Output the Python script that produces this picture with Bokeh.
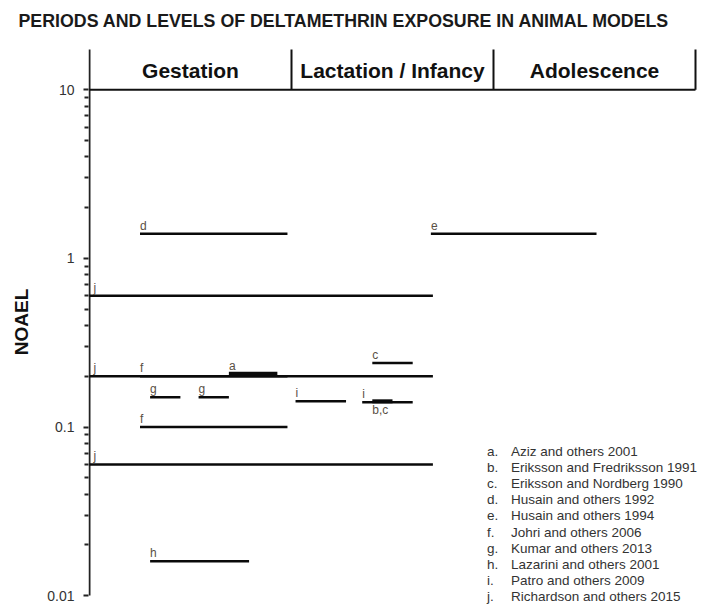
from bokeh.plotting import figure
from bokeh.models import ColumnDataSource, FixedTicker, CustomJSTickFormatter, Range1d
from bokeh.core.properties import value
from bokeh.embed import file_html
from bokeh.resources import INLINE

# ---------------- data ----------------
title_text = "PERIODS AND LEVELS OF DELTAMETHRIN EXPOSURE IN ANIMAL MODELS"
periods = ["Gestation", "Lactation / Infancy", "Adolescence"]

seg_label = ["d", "e", "j", "j", "j", "f", "a", "g", "g", "f", "i", "i", "c", "b,c", "h"]
seg_start = [0.25, 1.69, 0.0, 0.0, 0.0, 0.25, 0.69, 0.30, 0.54, 0.25, 1.02, 1.35, 1.40, 1.40, 0.30]
seg_end   = [0.98, 2.51, 1.70, 1.70, 1.70, 0.98, 0.93, 0.45, 0.69, 0.98, 1.27, 1.60, 1.60, 1.50, 0.79]
seg_noael = [1.4, 1.4, 0.6, 0.2, 0.06, 0.2, 0.207, 0.15, 0.15, 0.1, 0.142, 0.14, 0.24, 0.142, 0.016]

legend_keys = ["a.", "b.", "c.", "d.", "e.", "f.", "g.", "h.", "i.", "j."]
legend_refs = [
    "Aziz and others 2001",
    "Eriksson and Fredriksson 1991",
    "Eriksson and Nordberg 1990",
    "Husain and others 1992",
    "Husain and others 1994",
    "Johri and others 2006",
    "Kumar and others 2013",
    "Lazarini and others 2001",
    "Patro and others 2009",
    "Richardson and others 2015",
]

y_ticks = [0.01, 0.1, 1, 10]
y_minor = [m * 10.0 ** e for e in (-2, -1, 0) for m in range(2, 10)]

# ---------------- layout helpers (page pixels) ----------------
PX_DEC = 168.6          # pixels per decade
TEN_PX = 89.3           # page y of the 10 line
FRAME_TOP = 38
FRAME_BOTTOM = 605
HEADER_TOP = 49
LEFT = 88               # page x of the frame's left edge
PX_UNIT = 202.0         # pixels per period


def y_at(py):
    return 10 ** (1 - (py - TEN_PX) / PX_DEC)


Y_START = y_at(FRAME_BOTTOM)
Y_END = y_at(FRAME_TOP)
X_START = -1.0 / PX_UNIT
FRAME_W = 614
X_END = X_START + FRAME_W / PX_UNIT


def x_at(px):
    return X_START + (px - LEFT) / PX_UNIT


p = figure(frame_width=FRAME_W, frame_height=FRAME_BOTTOM - FRAME_TOP,
           x_range=Range1d(X_START, X_END), y_range=Range1d(Y_START, Y_END),
           y_axis_type="log", output_backend="svg", toolbar_location=None,
           min_border_left=LEFT, min_border_top=FRAME_TOP, min_border_right=0,
           min_border_bottom=4)

p.title.text = title_text
p.title.text_font = "Liberation Sans"
p.title.text_font_size = "17.8px"
p.title.text_font_style = "bold"
p.title.text_color = "#1a1a1a"
p.title.align = "left"
p.title.offset = 18 - LEFT
p.title.standoff = 16

p.xaxis.visible = False
p.xgrid.visible = False
p.ygrid.visible = False
p.outline_line_color = None

ax = p.yaxis[0]
ax.ticker = FixedTicker(ticks=y_ticks, minor_ticks=y_minor)
ax.formatter = CustomJSTickFormatter(code="return tick.toString();")
ax.axis_line_color = None
ax.major_tick_line_width = 2
ax.minor_tick_line_width = 2
ax.major_tick_line_color = "#222222"
ax.minor_tick_line_color = "#222222"
ax.major_tick_out = 5
ax.major_tick_in = 0
ax.minor_tick_out = 4
ax.minor_tick_in = 0
ax.major_label_text_font = "Liberation Sans"
ax.major_label_text_font_size = "14px"
ax.major_label_text_color = "#333333"
ax.major_label_standoff = 9
ax.axis_label = "NOAEL"
ax.axis_label_text_font = "Liberation Sans"
ax.axis_label_text_font_size = "19px"
ax.axis_label_text_font_style = "bold"
ax.axis_label_text_color = "#111111"
ax.axis_label_standoff = 12

# own axis line, from 0.01 up to the top of the header box
p.segment(x0=[0], y0=[min(y_ticks)], x1=[0], y1=[y_at(HEADER_TOP)],
          line_width=2, line_color="#222222")

# ---------------- header box ----------------
n = len(periods)
p.segment(x0=[0], y0=[max(y_ticks)], x1=[n], y1=[max(y_ticks)],
          line_width=2, line_color="#111111")
p.segment(x0=list(range(1, n + 1)), y0=[max(y_ticks)] * n, x1=list(range(1, n + 1)),
          y1=[y_at(HEADER_TOP)] * n, line_width=2, line_color="#111111")
p.text(x=[i + 0.5 for i in range(n)], y=[y_at(70)] * n, text=periods,
       text_font=value("Liberation Sans"), text_font_size="21px",
       text_font_style="bold", text_align="center", text_baseline="middle",
       text_color="#111111")

# ---------------- exposure segments ----------------
thick = {"a", "b,c"}
src_thin = ColumnDataSource(dict(
    x0=[s for s, l in zip(seg_start, seg_label) if l not in thick],
    x1=[e for e, l in zip(seg_end, seg_label) if l not in thick],
    y=[v for v, l in zip(seg_noael, seg_label) if l not in thick]))
src_thick = ColumnDataSource(dict(
    x0=[s for s, l in zip(seg_start, seg_label) if l in thick],
    x1=[e for e, l in zip(seg_end, seg_label) if l in thick],
    y=[v for v, l in zip(seg_noael, seg_label) if l in thick]))
p.segment(x0="x0", y0="y", x1="x1", y1="y", source=src_thin,
          line_width=2.5, line_color="#0a0a0a")
p.segment(x0="x0", y0="y", x1="x1", y1="y", source=src_thick,
          line_width=4, line_color="#0a0a0a")

above = [(l, s, v) for l, s, v in zip(seg_label, seg_start, seg_noael) if l != "b,c"]
below = [(l, s, v) for l, s, v in zip(seg_label, seg_start, seg_noael) if l == "b,c"]
p.text(x=[s for _, s, _ in above], y=[v for _, _, v in above],
       text=[l for l, _, _ in above],
       x_offset=[4 if s == 0 else 0 for _, s, _ in above], y_offset=-8,
       text_font=value("Liberation Sans"), text_font_size="12px",
       text_color="#5a5045", text_baseline="middle", text_align="left")
p.text(x=[s for _, s, _ in below], y=[v for _, _, v in below],
       text=[l for l, _, _ in below], y_offset=9,
       text_font=value("Liberation Sans"), text_font_size="12px",
       text_color="#5a5045", text_baseline="middle", text_align="left")

# ---------------- reference list ----------------
rows = len(legend_keys)
ly = [y_at(450.8 + 16.15 * i) for i in range(rows)]
p.text(x=[x_at(486.5)] * rows, y=ly, text=legend_keys,
       text_font=value("Liberation Sans"), text_font_size="13.5px",
       text_color="#333333", text_baseline="middle")
p.text(x=[x_at(510.5)] * rows, y=ly, text=legend_refs,
       text_font=value("Liberation Sans"), text_font_size="13.5px",
       text_color="#333333", text_baseline="middle")

open("out.html", "w").write(file_html(p, INLINE))
